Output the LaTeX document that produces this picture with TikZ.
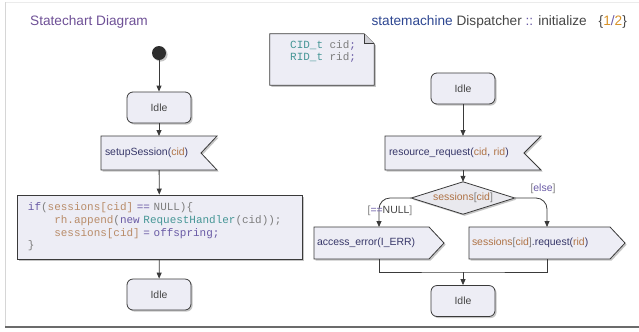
\documentclass[tikz,border=0pt]{standalone}
\usepackage{fontspec}
\setmainfont{Liberation Sans}
\newfontfamily\codefont{Liberation Mono}[WordSpace={1,0,0}]
\usetikzlibrary{shadows,calc,arrows.meta,backgrounds}

\definecolor{boxfill}{RGB}{237,237,245}
\definecolor{diafill}{RGB}{233,233,238}
\definecolor{edgecol}{RGB}{58,58,58}
\definecolor{titlepurple}{RGB}{110,80,150}
\definecolor{smblue}{RGB}{45,70,145}
\definecolor{navytext}{RGB}{55,55,105}
\definecolor{argbrown}{RGB}{175,115,70}
\definecolor{codebrown}{RGB}{185,140,105}
\definecolor{codeteal}{RGB}{70,150,150}
\definecolor{codepurple}{RGB}{105,90,165}
\definecolor{codegray}{RGB}{125,125,125}
\definecolor{pageorange}{RGB}{215,145,40}
\definecolor{textgray}{RGB}{70,70,70}

% colour helpers for highlighted text
\newcommand{\cKw}[1]{\textcolor{codepurple}{#1}}
\newcommand{\cVar}[1]{\textcolor{codebrown}{#1}}
\newcommand{\cTy}[1]{\textcolor{codeteal}{#1}}
\newcommand{\cPn}[1]{\textcolor{codegray}{#1}}
\newcommand{\aArg}[1]{\textcolor{argbrown}{#1}}
\newcommand{\aPn}[1]{\textcolor{codegray}{#1}}

\tikzset{
  x=1bp, y=-1bp,
  shade/.style={drop shadow={shadow xshift=1.6bp, shadow yshift=-1.6bp, fill=black!45, opacity=0.5}},
  outline/.style={draw=edgecol, line width=0.8bp, fill=boxfill, shade},
  labelfont/.style={font=\fontsize{10.5}{12}\selectfont},
  statebox/.style={outline, rounded corners=6bp, minimum width=64bp, minimum height=31bp,
    inner sep=0, labelfont, text=textgray},
  slot/.style={inner xsep=4bp, inner ysep=0, outer sep=0, align=left, labelfont, text=navytext},
  codebox/.style={outline, inner xsep=11bp, inner ysep=0, align=left,
    font=\codefont\fontsize{11}{12.8}\selectfont},
  arr/.style={draw=edgecol, line width=0.8bp, -{Triangle[length=6bp,width=5bp]}},
  plain/.style={draw=edgecol, line width=0.8bp},
  guard/.style={labelfont, inner sep=1bp},
}

\begin{document}
\begin{tikzpicture}
\useasboundingbox (0,0) rectangle (639,331);

% page frame
\draw[black!8, line width=0.8bp] (5,2) -- (639,2);
\draw[black!16, line width=1bp] (5,2) -- (5,327);
\draw[black!58, line width=1.3bp] (5,327) -- (639,327);

% titles
\node[anchor=west, font=\fontsize{13.7}{16}\selectfont, text=titlepurple, inner sep=0] (ltitle) at (30,22) {Statechart Diagram};
\node[anchor=east, font=\fontsize{13.7}{16}\selectfont, inner sep=0] (rtitle) at (587,22)
  {\textcolor{smblue}{statemachine} \textcolor{textgray}{Dispatcher} \textcolor{codepurple}{::} \textcolor{textgray}{initialize}};
\node[anchor=east, font=\fontsize{13.7}{16}\selectfont, inner sep=0] (page) at (627,22)
  {\textcolor{textgray}{\{}\textcolor{pageorange}{1}\textcolor{codepurple}{/}\textcolor{pageorange}{2}\textcolor{textgray}{\}}};

% ---------- left machine ----------
\node[circle, fill=black!82, minimum size=14bp, inner sep=0, shade] (init) at (159,53) {};
\node[statebox] (idle1) at (159,107.5) {Idle};
\node[slot, text width=108bp, minimum height=34bp] (ss) at (159,153)
  {setupSession(\aArg{cid})};
\node[codebox, text width=263bp, minimum height=64bp] (code) at (159.5,227)
  {\cKw{if}\cPn{(}\cVar{sessions[cid]} \cKw{==} \cPn{NULL)\{}\\
   \hspace*{2.4em}\cVar{rh.append}\cPn{(}\cKw{new} \cTy{RequestHandler}\cPn{(cid));}\\
   \hspace*{2.4em}\cVar{sessions[cid]} \cKw{=} \cKw{offspring;}\\
   \cPn{\}}};
\node[statebox] (idle2) at (159,294.5) {Idle};

% ---------- right machine ----------
\node[minimum width=104bp, minimum height=51bp, inner sep=0] (note) at (322,59.5) {};
\node[anchor=west, align=left, inner sep=0, font=\codefont\fontsize{11}{12.8}\selectfont] (notetxt) at (290,51.5)
  {\cTy{CID\_t} \cPn{cid}\cKw{;}\\ \cTy{RID\_t} \cPn{rid}\cKw{;}};
\node[statebox] (idle3) at (463,88.5) {Idle};
\node[slot, text width=148bp, minimum height=34bp] (rr) at (463,153)
  {resource\_request(\aArg{cid}, \aArg{rid})};
\node[minimum width=103bp, minimum height=32bp, inner sep=0, labelfont] (dia) at (463,198)
  {\aArg{sessions}\aPn{[}\aArg{cid}\aPn{]}};
\node[slot, inner xsep=3bp, text width=124bp, minimum height=32bp] (ae) at (379,243)
  {access\_error(I\_ERR)};
\node[slot, inner xsep=3bp, text width=150bp, minimum height=32bp] (sr) at (547,243)
  {\aArg{sessions}\aPn{[}\aArg{cid}\aPn{]}.request(\aArg{rid})};
\coordinate (merge) at (463,272);
\node[statebox] (idle4) at (463,301) {Idle};

% outlines of signal, note and choice shapes
\begin{scope}[on background layer]
  \path[outline] (ss.north west) -- (ss.north east) -- ($(ss.east)+(-16,0)$)
    -- (ss.south east) -- (ss.south west) -- cycle;
  \path[outline] (rr.north west) -- (rr.north east) -- ($(rr.east)+(-17,0)$)
    -- (rr.south east) -- (rr.south west) -- cycle;
  \path[outline] (ae.north west) -- ($(ae.north east)+(-15,0)$) -- (ae.east)
    -- ($(ae.south east)+(-15,0)$) -- (ae.south west) -- cycle;
  \path[outline] (sr.north west) -- ($(sr.north east)+(-15,0)$) -- (sr.east)
    -- ($(sr.south east)+(-15,0)$) -- (sr.south west) -- cycle;
  \path[outline, fill=diafill] (dia.west) -- (dia.north) -- (dia.east) -- (dia.south) -- cycle;
  \path[outline] (note.north west) -- ($(note.north east)+(-10,0)$) -- ($(note.north east)+(0,10)$)
    -- (note.south east) -- (note.south west) -- cycle;
  \draw[draw=edgecol, line width=0.8bp, fill=boxfill!85!black!90]
    ($(note.north east)+(-10,0)$) -- ($(note.north east)+(-10,10)$) -- ($(note.north east)+(0,10)$);
\end{scope}

% transitions, left
\draw[arr] (init) -- (idle1);
\draw[arr] (idle1) -- (ss);
\draw[arr] (ss) -- (code);
\draw[arr] (code) -- (idle2);

% transitions, right
\draw[arr] (idle3) -- (rr);
\draw[arr] (rr) -- (dia);
\draw[arr, rounded corners=11bp] (dia.west) -| (ae.north);
\draw[arr, rounded corners=11bp] (dia.east) -| (sr.north);
\draw[plain] (ae.south) |- (merge) -| (sr.south);
\draw[arr] (merge) -- (idle4);

% guards
\node[guard] (gnull) at (390,211)
  {\aPn{[}\textcolor{codepurple}{==}\textcolor{textgray}{NULL}\aPn{]}};
\node[guard] (gelse) at (543,189)
  {\aPn{[}\textcolor{codepurple}{else}\aPn{]}};
\end{tikzpicture}
\end{document}
